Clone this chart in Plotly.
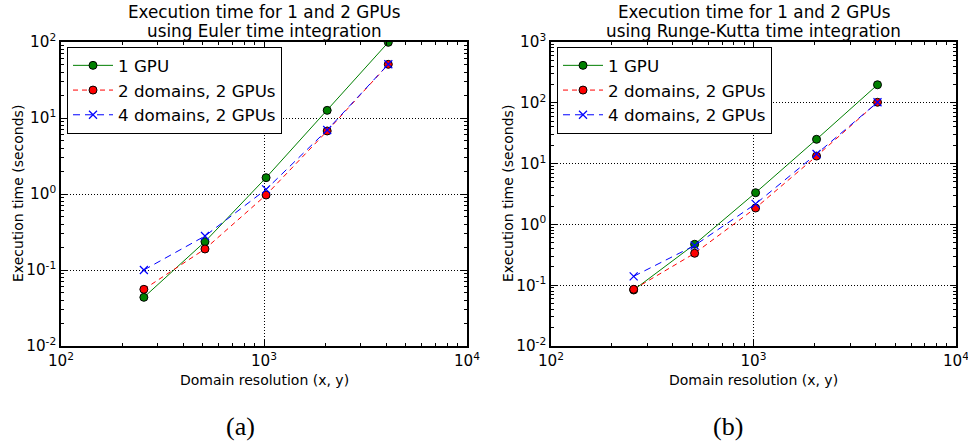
import plotly.graph_objects as go

# Grid resolutions (x = y) used in the benchmarks
resolution = [256, 512, 1024, 2048, 4096]

# Euler time integration, execution time in seconds
euler_1gpu = [0.0437, 0.236, 1.64, 12.6, 99.0]
euler_2dom = [0.0557, 0.189, 0.97, 6.75, 50.8]
euler_4dom = [0.100, 0.280, 1.15, 6.95, 51.0]

# Runge-Kutta time integration, execution time in seconds
rk_1gpu = [0.0834, 0.471, 3.32, 25.1, 198.0]
rk_2dom = [0.0855, 0.335, 1.86, 13.3, 102.0]
rk_4dom = [0.140, 0.450, 2.17, 14.4, 102.0]

series_names = ["1 GPU", "2 domains, 2 GPUs", "4 domains, 2 GPUs"]
title_lines = [
    ["Execution time for 1 and 2 GPUs", "using Euler time integration"],
    ["Execution time for 1 and 2 GPUs", "using Runge-Kutta time integration"],
]
x_title = "Domain resolution (x, y)"
y_title = "Execution time (seconds)"

W, H = 968, 447
FONT = "DejaVu Sans"

# panel boxes in pixels: (left, right)
panels = [(61, 467), (551, 956)]
TOP, BOTTOM = 42, 346


def px_x(p):
    return p / W


def px_y(p):
    return 1 - p / H


fig = go.Figure()


def add_series(xref, yref, legend, y1, y2, y4):
    fig.add_trace(go.Scatter(
        x=resolution, y=y1, name=series_names[0], mode="lines+markers",
        xaxis=xref, yaxis=yref, legend=legend, legendgroup=legend + "a",
        line=dict(color="#007f00", width=1),
        marker=dict(symbol="circle", size=8, color="#008000",
                    line=dict(color="black", width=1)),
    ))
    fig.add_trace(go.Scatter(
        x=resolution, y=y2, name=series_names[1], mode="lines+markers",
        xaxis=xref, yaxis=yref, legend=legend, legendgroup=legend + "b",
        line=dict(color="#ff0000", width=1, dash="5px,4px"),
        marker=dict(symbol="circle", size=8, color="#ff0000",
                    line=dict(color="black", width=1)),
    ))
    fig.add_trace(go.Scatter(
        x=resolution, y=y4, name=series_names[2], mode="lines+markers",
        xaxis=xref, yaxis=yref, legend=legend, legendgroup=legend + "c",
        line=dict(color="#0000ff", width=1, dash="7px,5px"),
        marker=dict(symbol="x-thin", size=8, color="#0000ff",
                    line=dict(color="#0000ff", width=1.2)),
    ))


add_series("x", "y", "legend", euler_1gpu, euler_2dom, euler_4dom)
add_series("x2", "y2", "legend2", rk_1gpu, rk_2dom, rk_4dom)


def sup(e):
    return "10<sup>%d</sup>" % e


x_major = [100, 1000, 10000]
x_minor = [m * 10 ** d for d in (2, 3) for m in range(2, 10)]


def y_minor(lo, hi):
    return [m * 10.0 ** d for d in range(lo, hi) for m in range(2, 10)]


common_axis = dict(
    type="log", showline=True, linecolor="black", linewidth=1.5,
    mirror="allticks", ticks="inside", ticklen=6, tickwidth=1, tickcolor="black",
    showgrid=True, gridcolor="black", griddash="1px,2px", gridwidth=1,
    zeroline=False, tickfont=dict(family=FONT, size=15.2, color="black"),
    tickmode="array", automargin=False, ticklabeloverflow="allow",
)

xa = dict(common_axis, range=[2, 4], tickvals=x_major,
          ticktext=[sup(e) for e in (2, 3, 4)],
          minor=dict(tickvals=x_minor, ticks="inside", ticklen=3,
                     tickcolor="black", showgrid=False))

legend_style = dict(xanchor="left", yanchor="top",
                    bgcolor="white", bordercolor="black", borderwidth=1,
                    font=dict(family=FONT, size=16.7, color="black"),
                    itemwidth=40, tracegroupgap=0)

fig.update_layout(
    width=W, height=H,
    margin=dict(l=0, r=0, t=0, b=0, pad=0, autoexpand=False),
    paper_bgcolor="white", plot_bgcolor="white",
    showlegend=True,
    xaxis=dict(xa, domain=[px_x(panels[0][0]), px_x(panels[0][1])], anchor="y"),
    xaxis2=dict(xa, domain=[px_x(panels[1][0]), px_x(panels[1][1])], anchor="y2"),
    yaxis=dict(common_axis, range=[-2, 2], anchor="x",
               domain=[px_y(BOTTOM), px_y(TOP)],
               tickvals=[0.01, 0.1, 1, 10, 100],
               ticktext=[sup(e) for e in (-2, -1, 0, 1, 2)],
               minor=dict(tickvals=y_minor(-2, 2), ticks="inside", ticklen=3,
                          tickcolor="black", showgrid=False)),
    yaxis2=dict(common_axis, range=[-2, 3], anchor="x2",
                domain=[px_y(BOTTOM), px_y(TOP)],
                tickvals=[0.01, 0.1, 1, 10, 100, 1000],
                ticktext=[sup(e) for e in (-2, -1, 0, 1, 2, 3)],
                minor=dict(tickvals=y_minor(-2, 3), ticks="inside", ticklen=3,
                           tickcolor="black", showgrid=False)),
    legend=dict(legend_style, x=px_x(67), y=px_y(47)),
    legend2=dict(legend_style, x=px_x(557), y=px_y(47)),
)

for (left, right), lines in zip(panels, title_lines):
    cx = (left + right) / 2
    for text, cy in zip(lines, (12.5, 30.5)):
        fig.add_annotation(text=text, x=px_x(cx), y=px_y(cy), xref="paper", yref="paper",
                           xanchor="center", yanchor="middle", showarrow=False,
                           font=dict(family=FONT, size=16.8, color="black"))
    fig.add_annotation(text=x_title, x=px_x(cx), y=px_y(380), xref="paper", yref="paper",
                       xanchor="center", yanchor="middle", showarrow=False,
                       font=dict(family=FONT, size=14, color="black"))
    fig.add_annotation(text=y_title, x=px_x(left - 43), y=px_y((TOP + BOTTOM) / 2),
                       xref="paper", yref="paper", textangle=-90,
                       xanchor="center", yanchor="middle", showarrow=False,
                       font=dict(family=FONT, size=14, color="black"))

for text, cx in [("(a)", 240), ("(b)", 728)]:
    fig.add_annotation(text=text, x=px_x(cx), y=px_y(426), xref="paper", yref="paper",
                       xanchor="center", yanchor="middle", showarrow=False,
                       font=dict(family="Liberation Serif", size=26, color="black"))

fig.write_html("out.html")
